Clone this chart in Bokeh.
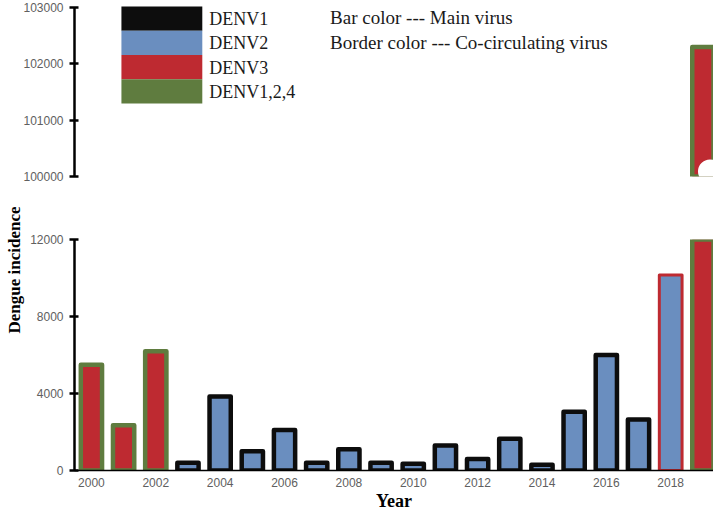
import math
from bokeh.plotting import figure
from bokeh.layouts import column
from bokeh.models import Range1d, FixedTicker, Label, ColumnDataSource, BasicTickFormatter, Title
from bokeh.embed import file_html
from bokeh.resources import INLINE

# ---------------- data ----------------
years = [2000, 2001, 2002, 2003, 2004, 2005, 2006, 2007, 2008, 2009,
         2010, 2011, 2012, 2013, 2014, 2015, 2016, 2017, 2018, 2019]
incidence = [5500, 2350, 6200, 400, 3850, 1000, 2100, 400, 1100, 400,
             350, 1300, 600, 1650, 300, 3050, 6000, 2650, 10150, 102300]
main_virus = ["DENV3", "DENV3", "DENV3", "DENV2", "DENV2", "DENV2", "DENV2", "DENV2", "DENV2", "DENV2",
              "DENV2", "DENV2", "DENV2", "DENV2", "DENV2", "DENV2", "DENV2", "DENV2", "DENV2", "DENV3"]
co_virus = ["DENV1,2,4", "DENV1,2,4", "DENV1,2,4", "DENV1", "DENV1", "DENV1", "DENV1", "DENV1", "DENV1", "DENV1",
            "DENV1", "DENV1", "DENV1", "DENV1", "DENV1", "DENV1", "DENV1", "DENV1", "DENV3", "DENV1,2,4"]
legend_names = ["DENV1", "DENV2", "DENV3", "DENV1,2,4"]
lower_ticks = [0, 4000, 8000, 12000]
upper_ticks = [100000, 101000, 102000, 103000]
year_ticks = [2000, 2002, 2004, 2006, 2008, 2010, 2012, 2014, 2016, 2018]
note_lines = ["Bar color --- Main virus", "Border color --- Co-circulating virus"]

# ---------------- styles ----------------
virus_color = {"DENV1": "#0d0d0d", "DENV2": "#6a8ebf", "DENV3": "#be2a31", "DENV1,2,4": "#5f7c3f"}
SERIF = "Liberation Serif"
TICK_FONT = "Liberation Sans"
TICK_COLOR = "#606060"

# layout (pixel geometry of the page)
W = 713
FRAME_L, FRAME_R = 73, 713
X0, X1 = 1999.474, 2019.33
PX_PER_YEAR = (FRAME_R - FRAME_L) / (X1 - X0)
U_TOP_PX, U_BOT_PX = 0, 176      # upper frame
U_SCALE = 56.33 / 1000           # px per unit (upper)
UPPER_BASE = 100000
UP_H = 185
L_TOP_PX, L_BOT_PX = 239, 470    # lower frame
LOW_H = 330


def px_x(ix):
    return X0 + (ix - FRAME_L) / PX_PER_YEAR


def px_yu(iy):
    return UPPER_BASE + (U_BOT_PX - iy) / U_SCALE


line_w = [3 if c == "DENV3" else 4.5 for c in co_virus]
bar_w = [0.8 - lw / PX_PER_YEAR for lw in line_w]

src = ColumnDataSource(dict(
    x=years, top=incidence,
    fill=[virus_color[m] for m in main_virus],
    line=[virus_color[c] for c in co_virus],
    lw=line_w, w=bar_w,
))
up_idx = [i for i, v in enumerate(incidence) if v > UPPER_BASE]
src_up = ColumnDataSource(dict(
    x=[years[i] for i in up_idx], top=[incidence[i] for i in up_idx],
    bottom=[UPPER_BASE for _ in up_idx],
    fill=[virus_color[main_virus[i]] for i in up_idx],
    line=[virus_color[co_virus[i]] for i in up_idx],
    lw=[line_w[i] for i in up_idx], w=[bar_w[i] for i in up_idx],
))

xr = Range1d(X0, X1)


def style_y(ax, ticks, bounds):
    ax.ticker = FixedTicker(ticks=ticks)
    ax.formatter = BasicTickFormatter(use_scientific=False)
    ax.bounds = bounds
    ax.axis_line_width = 2.5
    ax.axis_line_color = "black"
    ax.major_tick_in = 4
    ax.major_tick_out = 5
    ax.major_tick_line_width = 2.5
    ax.major_tick_line_color = "black"
    ax.minor_tick_line_color = None
    ax.major_label_text_font = TICK_FONT
    ax.major_label_text_font_size = "12px"
    ax.major_label_text_color = TICK_COLOR
    ax.major_label_standoff = 6


# ---------------- upper panel ----------------
p1 = figure(width=W, height=UP_H, x_range=xr,
            y_range=Range1d(UPPER_BASE, UPPER_BASE + (U_BOT_PX - U_TOP_PX) / U_SCALE),
            x_axis_location=None, toolbar_location=None, output_backend="svg",
            min_border_left=FRAME_L, min_border_right=W - FRAME_R,
            min_border_top=U_TOP_PX, min_border_bottom=UP_H - U_BOT_PX)
p1.outline_line_color = None
p1.grid.visible = False
style_y(p1.yaxis[0], upper_ticks, (100000, 103000))
p1.vbar(x="x", top="top", bottom="bottom", width="w", source=src_up,
        fill_color="fill", line_color="line", line_width="lw", line_join="round")
# torn-edge break marker at the bottom of the broken bar
p1.scatter(x=[years[i] + 0.22 for i in up_idx], y=[px_yu(171) for _ in up_idx],
           size=24, fill_color="white", line_color=None)

# legend swatches
LEG_L, LEG_R, LEG_TOP, LEG_H = 120, 201, 6, 24.25
for k, name in enumerate(legend_names):
    t = LEG_TOP + k * LEG_H
    p1.quad(left=px_x(LEG_L), right=px_x(LEG_R), top=px_yu(t), bottom=px_yu(t + LEG_H),
            fill_color=virus_color[name], line_color=None)
    p1.add_layout(Label(x=px_x(208), y=px_yu(t + LEG_H / 2 + 0.5), text=name,
                        text_font=SERIF, text_font_size="18px", text_color="#1a1a1a",
                        text_align="left", text_baseline="middle"))
for k, line in enumerate(note_lines):
    p1.add_layout(Label(x=px_x(329), y=px_yu(17 + k * 24.5), text=line,
                        text_font=SERIF, text_font_size="19px", text_color="#1a1a1a",
                        text_align="left", text_baseline="middle"))

# ---------------- lower panel ----------------
p2 = figure(width=W, height=LOW_H, x_range=xr, y_range=Range1d(0, 12000),
            toolbar_location=None, output_backend="svg",
            min_border_left=FRAME_L, min_border_right=W - FRAME_R,
            min_border_top=L_TOP_PX - UP_H, min_border_bottom=LOW_H - (L_BOT_PX - UP_H))
p2.outline_line_color = None
p2.grid.visible = False
style_y(p2.yaxis[0], lower_ticks, (0, 12000))
xa = p2.xaxis[0]
xa.ticker = FixedTicker(ticks=year_ticks)
xa.axis_line_width = 1.5
xa.axis_line_color = "black"
xa.major_tick_in = 0
xa.major_tick_out = 0
xa.minor_tick_line_color = None
xa.major_label_text_font = TICK_FONT
xa.major_label_text_font_size = "12px"
xa.major_label_text_color = TICK_COLOR
xa.major_label_standoff = 7
xa.axis_label = "Year"
xa.axis_label_text_font = SERIF
xa.axis_label_text_font_size = "18px"
xa.axis_label_text_font_style = "bold"
xa.axis_label_text_color = "black"
xa.axis_label_standoff = 1

p2.vbar(x="x", top="top", bottom=0, width="w", source=src,
        fill_color="fill", line_color="line", line_width="lw", line_join="round")

ylab = Title(text="Dengue incidence", text_font=SERIF, text_font_size="17px",
             text_font_style="bold", text_color="black", align="left", offset=137,
             standoff=6, vertical_align="middle")
p2.add_layout(ylab, "left")

layout = column(p1, p2, spacing=0)
open("out.html", "w").write(file_html(layout, INLINE))
